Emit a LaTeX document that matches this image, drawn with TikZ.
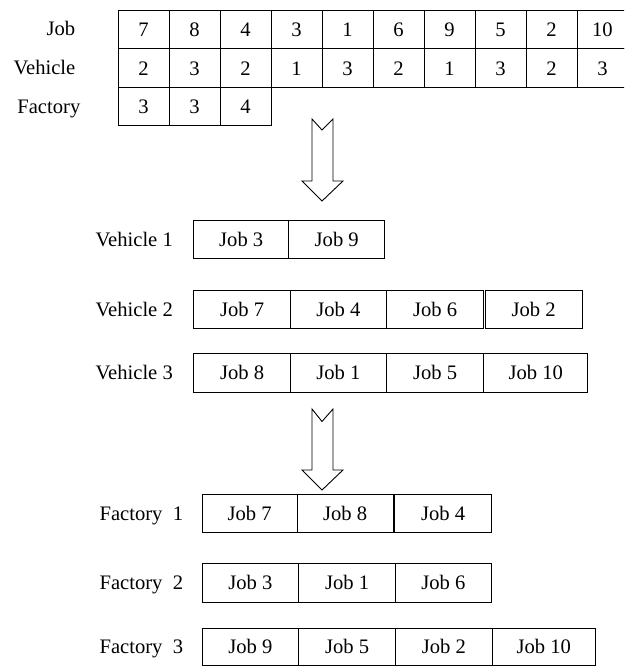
\documentclass[tikz,border=0pt]{standalone}
\usepackage{fontspec}
\setmainfont{Liberation Serif}
\begin{document}
\begin{tikzpicture}[x=1pt,y=-1pt,
  txt/.style={font=\fontsize{20.6}{25}\selectfont},
  cell/.style={txt,draw=black,line width=0.9pt,inner sep=0pt,anchor=north west,text height=13.7pt,text depth=0pt},
  lbl/.style={txt,anchor=east,inner sep=0pt,text height=13.7pt,text depth=0pt},
  blockarrow/.style={draw=black,line width=0.9pt,fill=white,line join=miter}]
\useasboundingbox (0,0) rectangle (624,666);
\clip (0,0) rectangle (624,666);

% ---- top table ----
\node[lbl] (ljob) at (75.5,28.7) {Job};
\node[lbl] (lveh) at (75.5,67.4) {Vehicle};
\node[lbl] (lfac) at (80.5,106.2) {Factory};
\foreach \v [count=\i] in {7,8,4,3,1,6,9,5,2,10}
  \node[cell,minimum width=51,minimum height=38.5] (j\i) at ({117.5+51*(\i-1)},10) {\v};
\foreach \v [count=\i] in {2,3,2,1,3,2,1,3,2,3}
  \node[cell,minimum width=51,minimum height=38.5] (h\i) at ({117.5+51*(\i-1)},48.5) {\v};
\foreach \v [count=\i] in {3,3,4}
  \node[cell,minimum width=51,minimum height=38.5] (f\i) at ({117.5+51*(\i-1)},87) {\v};

% ---- arrow 1 ----
\coordinate (a1n) at (322,130);
\draw[blockarrow] (312,119) -- (a1n) -- (333,119) -- (333,181) -- (343,181)
  -- (322,201) coordinate (a1tip) -- (302,181) -- (312,181) -- cycle;

% ---- vehicles ----
\node[lbl] (lv1) at (173,239.2) {Vehicle 1};
\foreach \t/\l/\w [count=\i] in {Job 3/193.3/95,Job 9/288.3/96}
  \node[cell,minimum width=\w,minimum height=38.3] (v1-\i) at (\l,220) {\t};
\node[lbl] (lv2) at (173,309.2) {Vehicle 2};
\foreach \t/\l/\w [count=\i] in {Job 7/193.3/96.7,Job 4/290/96,Job 6/386/97.3,Job 2/484.6/97.1}
  \node[cell,minimum width=\w,minimum height=38.3] (v2-\i) at (\l,290) {\t};
\node[lbl] (lv3) at (173,372.5) {Vehicle 3};
\foreach \t/\l/\w [count=\i] in {Job 8/193.3/96.7,Job 1/290/96,Job 5/386/97.3,Job 10/483.3/104}
  \node[cell,minimum width=\w,minimum height=38.4] (v3-\i) at (\l,353.3) {\t};

% ---- arrow 2 ----
\coordinate (a2n) at (322,421.5);
\draw[blockarrow] (312,409) -- (a2n) -- (333,409) -- (333,470) -- (343,470)
  -- (322,490) coordinate (a2tip) -- (302,470) -- (312,470) -- cycle;

% ---- factories ----
\node[lbl] (lf1) at (183.3,513.3) {Factory\ \ 1};
\foreach \t/\l/\w [count=\i] in {Job 7/201.7/95,Job 8/296.7/96,Job 4/394.2/96.8}
  \node[cell,minimum width=\w,minimum height=38] (fa1-\i) at (\l,494.3) {\t};
\node[lbl] (lf2) at (183.3,582.5) {Factory\ \ 2};
\foreach \t/\l/\w [count=\i] in {Job 3/201.7/96.6,Job 1/298.3/96.7,Job 6/395/96}
  \node[cell,minimum width=\w,minimum height=38.4] (fa2-\i) at (\l,563.3) {\t};
\node[lbl] (lf3) at (183.3,646.7) {Factory\ \ 3};
\foreach \t/\l/\w [count=\i] in {Job 9/201.7/96.6,Job 5/298.3/96.7,Job 2/395/96.7,Job 10/491.7/103.3}
  \node[cell,minimum width=\w,minimum height=37.5] (fa3-\i) at (\l,627.7) {\t};
\end{tikzpicture}
\end{document}
